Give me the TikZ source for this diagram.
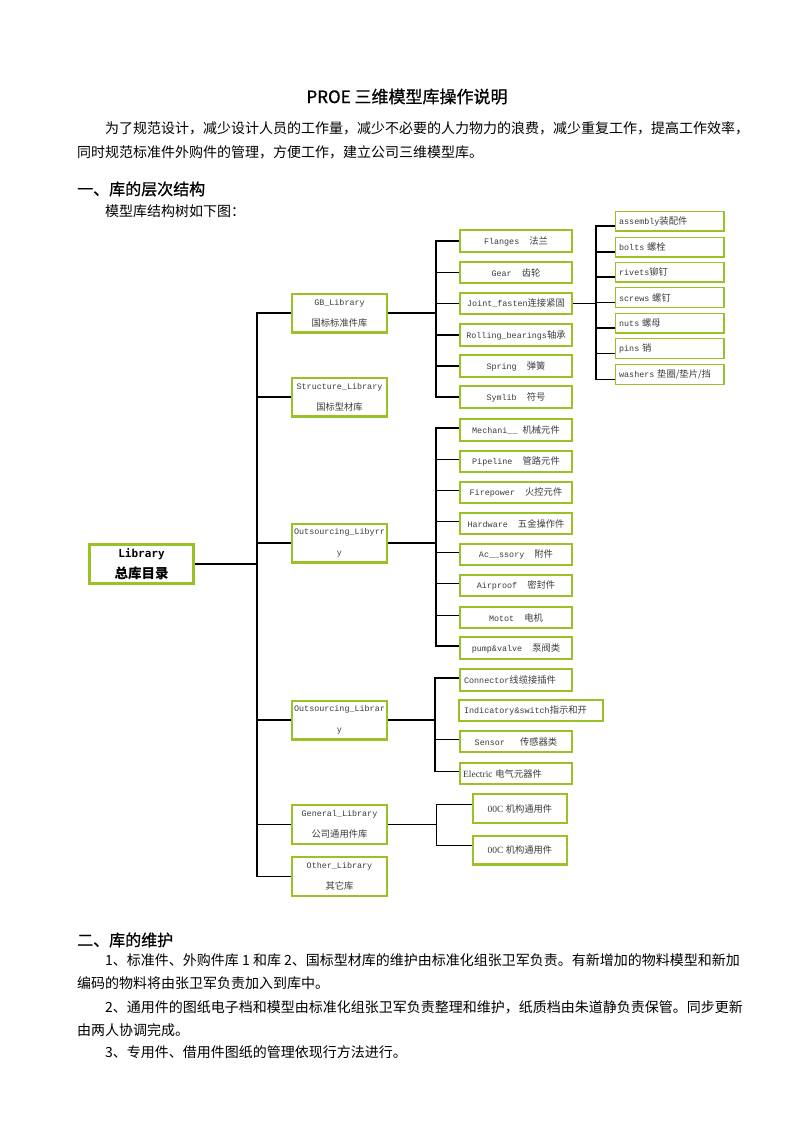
\documentclass[tikz,border=0pt]{standalone}
\usepackage{fontspec}
\setmainfont{Liberation Serif}
\newfontfamily\cjk{Noto Sans CJK SC}
\newfontfamily\cjkh{Noto Sans CJK SC}[FakeBold=0.8]
\newfontfamily\mono{Liberation Mono}
\newfontfamily\smono{DejaVu Sans Mono}
\definecolor{lgreen}{RGB}{155,193,38}
\definecolor{txt}{RGB}{60,60,60}
\newcommand{\zh}[1]{{\cjk\fontsize{9.3}{21}\selectfont #1}}
\newcommand{\tm}[1]{{\rmfamily\fontsize{9.5}{21}\selectfont #1}}
\begin{document}
\begin{tikzpicture}[x=1pt,y=-1pt,
  rootbox/.style={draw=lgreen,line width=3.4pt,fill=white,minimum width=103.6pt,minimum height=38.6pt,inner sep=0pt,align=center,font=\fontsize{11}{21}\selectfont},
  lvlone/.style={draw=lgreen,line width=2.4pt,fill=white,minimum width=94.6pt,minimum height=38.6pt,inner sep=0pt,align=center,text=txt,font=\fontsize{8.4}{21}\selectfont\mono},
  lvltwo/.style={draw=lgreen,line width=2.2pt,fill=white,minimum width=111.8pt,minimum height=21.5pt,inner sep=0pt,align=center,text=txt,font=\fontsize{8.4}{10}\selectfont\mono},
  lvltwol/.style={lvltwo,inner xsep=4pt,text width=103.8pt,align=left},
  leafbox/.style={draw=lgreen,line width=1.3pt,fill=white,inner xsep=4pt,inner ysep=0pt,text width=100.7pt,minimum height=19.7pt,align=left,text=txt,font=\fontsize{8.4}{10}\selectfont\mono},
  genbox/.style={draw=lgreen,line width=2.4pt,fill=white,minimum width=93.6pt,minimum height=28.6pt,inner sep=0pt,align=center,text=txt,font=\fontsize{9}{10}\selectfont},
  conn/.style={line width=1.8pt,black},
  thinc/.style={line width=1pt,black},
  body/.style={anchor=base west,inner sep=0pt,font=\fontsize{14}{14}\selectfont\cjk},
  head/.style={anchor=base west,inner sep=0pt,font=\fontsize{16}{16}\selectfont\cjkh}
]
\useasboundingbox (0,0) rectangle (793,1122);

% ---- text ----
\node[anchor=base,inner sep=0pt,font=\fontsize{17}{17}\selectfont\cjkh] (title) at (407,103) {PROE 三维模型库操作说明};
\node[body] (p1) at (105,133) {为了规范设计，减少设计人员的工作量，减少不必要的人力物力的浪费，减少重复工作，提高工作效率，};
\node[body] (p2) at (77,157) {同时规范标准件外购件的管理，方便工作，建立公司三维模型库。};
\node[head] (h1) at (77,195) {一、库的层次结构};
\node[body] (p3) at (105,216) {模型库结构树如下图：};
\node[head] (h2) at (77,946) {二、库的维护};
\node[body] (s1) at (105,965) {1、标准件、外购件库 1 和库 2、国标型材库的维护由标准化组张卫军负责。有新增加的物料模型和新加};
\node[body] (s2) at (77,988) {编码的物料将由张卫军负责加入到库中。};
\node[body] (s3) at (105,1012) {2、通用件的图纸电子档和模型由标准化组张卫军负责整理和维护，纸质档由朱道静负责保管。同步更新};
\node[body] (s4) at (77,1035) {由两人协调完成。};
\node[body] (s5) at (105,1057) {3、专用件、借用件图纸的管理依现行方法进行。};

% ---- tree nodes ----
\node[rootbox] (root) at (141.5,564) {{\smono\bfseries Library}\\{\cjk\bfseries\fontsize{13.5}{21}\selectfont 总库目录}};

\node[lvlone] (gb)  at (339.5,313)   {GB\_Library\\\zh{国标标准件库}};
\node[lvlone] (st)  at (339.5,397)   {Structure\_Library\\\zh{国标型材库}};
\node[lvlone] (os1) at (339.5,543)   {Outsourcing\_Libyrr\\y};
\node[lvlone] (os2) at (339.5,720)   {Outsourcing\_Librar\\y};
\node[lvlone] (gen) at (339.5,824.5) {General\_Library\\\zh{公司通用件库}};
\node[lvlone] (oth) at (339.5,876.5) {Other\_Library\\\zh{其它库}};

\node[lvltwo] (fl) at (516,241)   {Flanges~~\zh{法兰}};
\node[lvltwo] (ge) at (516,272.5) {Gear~~\zh{齿轮}};
\node[lvltwo] (jf) at (516,303.5) {Joint\_fasten\zh{连接紧固}};
\node[lvltwo] (rb) at (516,335)   {Rolling\_bearings\zh{轴承}};
\node[lvltwo] (sp) at (516,366)   {Spring~~\zh{弹簧}};
\node[lvltwo] (sy) at (516,397)   {Symlib~~\zh{符号}};

\node[leafbox] (as) at (669.5,221)   {assembly\zh{装配件}};
\node[leafbox] (bo) at (669.5,247)   {bolts~\zh{螺栓}};
\node[leafbox] (ri) at (669.5,272)   {rivets\zh{铆钉}};
\node[leafbox] (sc) at (669.5,297.5) {screws~\zh{螺钉}};
\node[leafbox] (nu) at (669.5,323)   {nuts~\zh{螺母}};
\node[leafbox] (pi) at (669.5,348.5) {pins~\zh{销}};
\node[leafbox] (wa) at (669.5,374.5) {washers~\zh{垫圈/垫片/挡}};

\node[lvltwo] (me) at (516,430)   {Mechani\_\_~\zh{机械元件}};
\node[lvltwo] (pl) at (516,461.5) {Pipeline~~\zh{管路元件}};
\node[lvltwo] (fp) at (516,492.5) {Firepower~~\zh{火控元件}};
\node[lvltwo] (hw) at (516,523.5) {Hardware~~\zh{五金操作件}};
\node[lvltwo] (ac) at (516,554.5) {Ac\_\_ssory~~\zh{附件}};
\node[lvltwo] (ai) at (516,585.5) {Airproof~~\zh{密封件}};
\node[lvltwo] (mo) at (516,617.5) {Motot~~\zh{电机}};
\node[lvltwo] (pv) at (516,648)   {pump\&valve~~\zh{泵阀类}};

\node[lvltwol] (co) at (516,680) {Connector\zh{线缆接插件}};
\node[lvltwo,minimum width=143.8pt,inner xsep=5pt,text width=133.8pt,align=left] (ind) at (531,710.5) {Indicatory\&switch\zh{指示和开}};
\node[lvltwo] (se) at (516,741.5) {Sensor~~~\zh{传感器类}};
\node[lvltwol,inner xsep=3pt,text width=105.8pt] (el) at (516,773.5) {\tm{Electric}~\zh{电气元器件}};

\node[genbox] (ga) at (520,808.5) {\tm{00C}~\zh{机构通用件}};
\node[genbox] (gb2) at (520,850) {\tm{00C}~\zh{机构通用件}};

% ---- connectors ----
\foreach \c in {gb,st,os1,os2,gen,oth}
  \draw[conn] (root.east) -- ++(62,0) |- (\c.west);
\foreach \c in {fl,ge,jf,rb,sp,sy}
  \draw[conn] (gb.east) -- ++(48,0) |- (\c.west);
\foreach \c in {as,bo,ri,sc,nu,pi,wa}
  \draw[conn] (jf.east) -- ++(23,0) |- ([yshift=-5pt]\c.west);
\foreach \c in {me,pl,fp,hw,ac,ai,mo,pv}
  \draw[conn] (os1.east) -- ++(48,0) |- ([yshift=2pt]\c.west);
\foreach \c in {co,se,el}
  \draw[conn] (os2.east) -- ++(47,0) |- ([yshift=2pt]\c.west);
\draw[conn] (gen.east) -- ++(48,0) coordinate (gj);
\draw[thinc] ([yshift=4.5pt]ga.west) -- ++(-36,0) |- ([yshift=4.5pt]gb2.west);
\end{tikzpicture}
\end{document}
